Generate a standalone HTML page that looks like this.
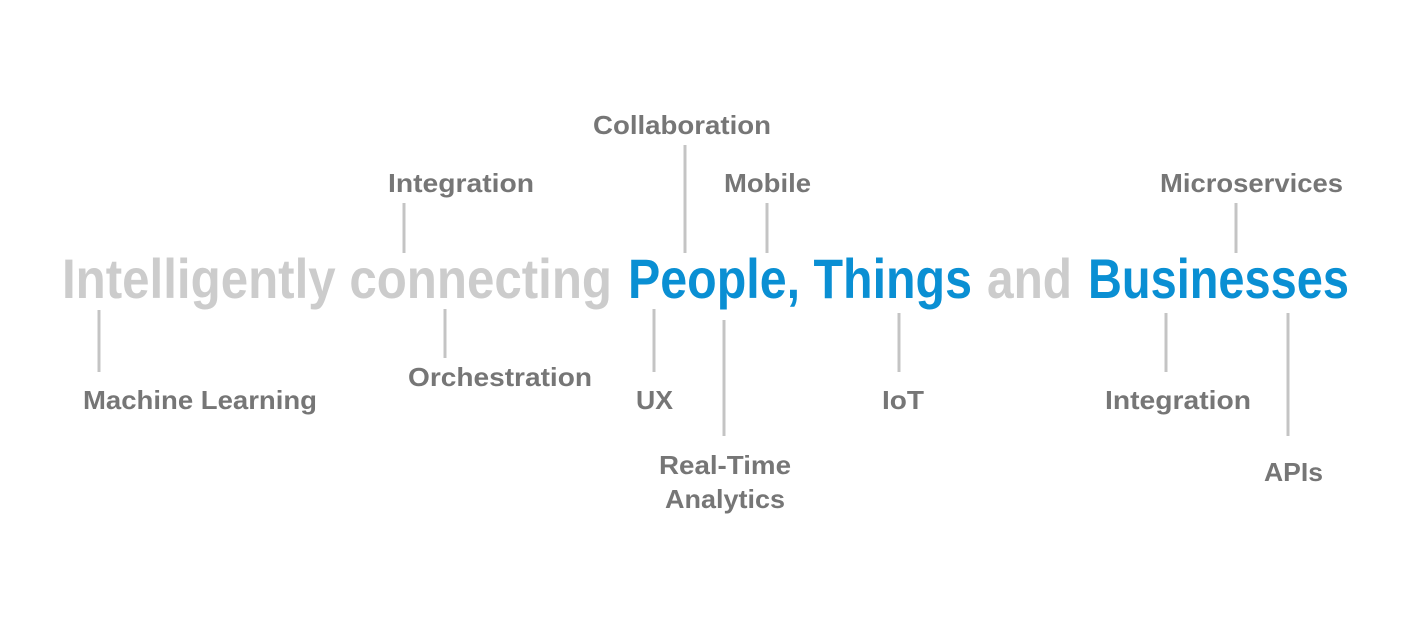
<!DOCTYPE html>
<html><head><meta charset="utf-8"><style>
html,body{margin:0;padding:0;background:#fff;width:1423px;height:617px;overflow:hidden}
svg{display:block}
.t{font-family:"Liberation Sans",sans-serif;font-weight:bold;font-size:56px}
.l{font-family:"Liberation Sans",sans-serif;font-weight:bold;font-size:26px;fill:#767676}
</style></head><body>
<svg width="1423" height="617" viewBox="0 0 1423 617" xmlns="http://www.w3.org/2000/svg">
<g stroke="#c4c4c4" stroke-width="3">
<line x1="404" y1="203" x2="404" y2="253"/>
<line x1="685" y1="145" x2="685" y2="253"/>
<line x1="767" y1="203" x2="767" y2="253"/>
<line x1="1236" y1="203" x2="1236" y2="253"/>
<line x1="99" y1="310" x2="99" y2="372"/>
<line x1="445" y1="309" x2="445" y2="358"/>
<line x1="654" y1="309" x2="654" y2="372"/>
<line x1="724" y1="320" x2="724" y2="436"/>
<line x1="899" y1="313" x2="899" y2="372"/>
<line x1="1166" y1="313" x2="1166" y2="372"/>
<line x1="1288" y1="313" x2="1288" y2="436"/>
</g>
<text class="t" x="62" y="298" fill="#cccccc" textLength="550" lengthAdjust="spacingAndGlyphs">Intelligently connecting</text>
<text class="t" x="628" y="298" fill="#0a8fd3" textLength="344" lengthAdjust="spacingAndGlyphs">People, Things</text>
<text class="t" x="987" y="298" fill="#cccccc" textLength="85" lengthAdjust="spacingAndGlyphs">and</text>
<text class="t" x="1088" y="298" fill="#0a8fd3" textLength="261" lengthAdjust="spacingAndGlyphs">Businesses</text>
<text class="l" x="593" y="134" textLength="178" lengthAdjust="spacingAndGlyphs">Collaboration</text>
<text class="l" x="388" y="192" textLength="146" lengthAdjust="spacingAndGlyphs">Integration</text>
<text class="l" x="724" y="192" textLength="87" lengthAdjust="spacingAndGlyphs">Mobile</text>
<text class="l" x="1160" y="192" textLength="183" lengthAdjust="spacingAndGlyphs">Microservices</text>
<text class="l" x="83" y="409" textLength="234" lengthAdjust="spacingAndGlyphs">Machine Learning</text>
<text class="l" x="408" y="386" textLength="184" lengthAdjust="spacingAndGlyphs">Orchestration</text>
<text class="l" x="636" y="409" textLength="37" lengthAdjust="spacingAndGlyphs">UX</text>
<text class="l" x="882" y="409" textLength="42" lengthAdjust="spacingAndGlyphs">IoT</text>
<text class="l" x="1105" y="409" textLength="146" lengthAdjust="spacingAndGlyphs">Integration</text>
<text class="l" x="659" y="474" textLength="132" lengthAdjust="spacingAndGlyphs">Real-Time</text>
<text class="l" x="665" y="508" textLength="120" lengthAdjust="spacingAndGlyphs">Analytics</text>
<text class="l" x="1264" y="481" textLength="59" lengthAdjust="spacingAndGlyphs">APIs</text>
</svg>
</body></html>
